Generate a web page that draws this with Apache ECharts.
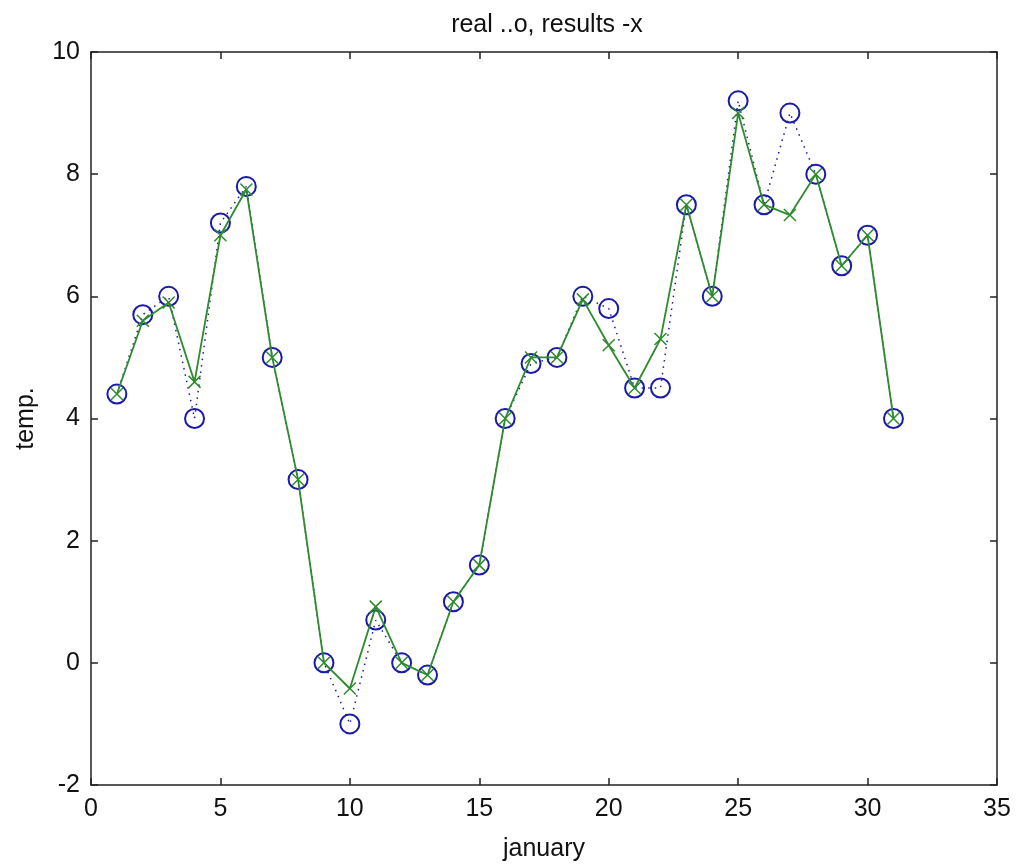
<!DOCTYPE html>
<html>
<head>
<meta charset="utf-8">
<script src="https://cdn.jsdelivr.net/npm/echarts@6/dist/echarts.min.js"></script>
<style>html,body{margin:0;padding:0;background:#fff;}#c{width:1017px;height:867px;}</style>
</head>
<body>
<div id="c"></div>
<script>
const days = [1,2,3,4,5,6,7,8,9,10,11,12,13,14,15,16,17,18,19,20,21,22,23,24,25,26,27,28,29,30,31];
const realTemp = [4.4,5.7,6.0,4.0,7.2,7.8,5.0,3.0,0,-1.0,0.7,0,-0.2,1.0,1.6,4.0,4.9,5.0,6.0,5.8,4.5,4.5,7.5,6.0,9.2,7.5,9.0,8.0,6.5,7.0,4.0];
const resultTemp = [4.4,5.6,5.9,4.6,7.0,7.75,5.0,3.0,0,-0.42,0.92,0,-0.2,1.0,1.6,4.0,5.0,5.0,5.95,5.2,4.5,5.3,7.5,6.0,9.0,7.5,7.33,8.0,6.5,7.0,4.0];

const chart = echarts.init(document.getElementById('c'), null, {renderer:'canvas'});
const font = 'Liberation Sans, Arial, sans-serif';
const axisLine = {show:true, onZero:false, lineStyle:{color:'#222', width:1.5}};
const tick = {show:true, inside:true, length:7, lineStyle:{color:'#222', width:1.5}};
chart.setOption({
  backgroundColor:'#fff',
  animation:false,
  title:{text:'real ..o, results -x', left:542, top:8, textAlign:'center',
    textStyle:{fontFamily:font, fontSize:25, fontWeight:'normal', color:'#111'}},
  grid:{left:91, top:52, right:20, bottom:82},
  xAxis:[
    {type:'value', min:0, max:35, interval:5, position:'bottom',
     name:'january', nameLocation:'middle', nameGap:52,
     nameTextStyle:{fontFamily:font, fontSize:25, color:'#111'},
     axisLine:axisLine, axisTick:tick, splitLine:{show:false},
     axisLabel:{fontFamily:font, fontSize:25, color:'#111', margin:12}},
    {type:'value', min:0, max:35, interval:5, position:'top',
     axisLine:axisLine, axisTick:tick, splitLine:{show:false}, axisLabel:{show:false}}
  ],
  yAxis:[
    {type:'value', min:-2, max:10, interval:2, position:'left',
     name:'temp.', nameLocation:'middle', nameGap:52, nameRotate:90,
     nameTextStyle:{fontFamily:font, fontSize:25, color:'#111'},
     axisLine:axisLine, axisTick:tick, splitLine:{show:false},
     axisLabel:{fontFamily:font, fontSize:25, color:'#111', margin:11}},
    {type:'value', min:-2, max:10, interval:2, position:'right',
     axisLine:axisLine, axisTick:tick, splitLine:{show:false}, axisLabel:{show:false}}
  ],
  series:[
    {type:'line', name:'real', data:days.map((d,i)=>[d, realTemp[i]]),
     symbol:'circle', symbolSize:19, showAllSymbol:true,
     lineStyle:{color:'#1a1aa8', width:1.5, type:[1.5,5]},
     itemStyle:{color:'rgba(0,0,0,0)', borderColor:'#1a1aa8', borderWidth:2},
     z:2},
    {type:'line', name:'results', data:days.map((d,i)=>[d, resultTemp[i]]),
     symbol:'path://M0,0L10,10M10,0L0,10', symbolSize:12, showAllSymbol:true,
     lineStyle:{color:'#2e8b2e', width:1.8},
     itemStyle:{color:'rgba(0,0,0,0)', borderColor:'#2e8b2e', borderWidth:1.5},
     z:3}
  ]
});
</script>
</body>
</html>
